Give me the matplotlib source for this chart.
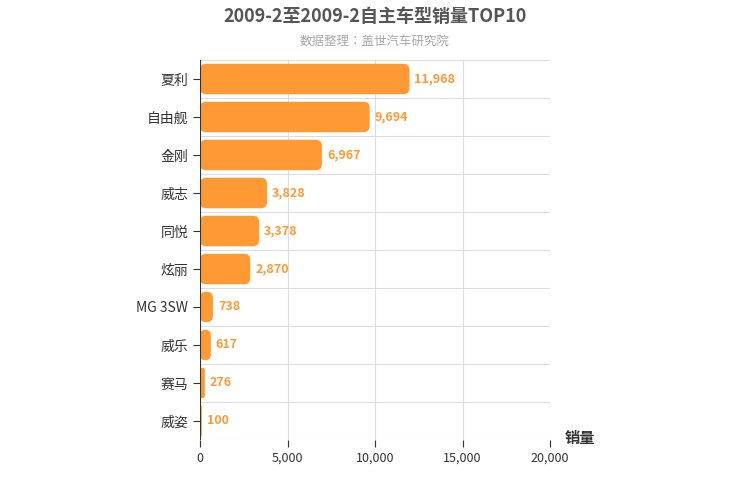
import matplotlib
matplotlib.use("Agg")
import matplotlib.pyplot as plt
from matplotlib.patches import FancyBboxPatch
from matplotlib import font_manager as fm

cjk = [f for f in fm.fontManager.ttflist if 'CJK' in f.name]
names = sorted(set(f.name for f in cjk), key=lambda s: (0 if 'SC' in s else 1, s))
fam = names[0] if names else 'DejaVu Sans'
plt.rcParams['font.family'] = 'sans-serif'
plt.rcParams['font.sans-serif'] = [fam, 'DejaVu Sans']

categories = ["夏利", "自由舰", "金刚", "威志", "同悦", "炫丽", "MG 3SW", "威乐", "赛马", "威姿"]
values = [11968, 9694, 6967, 3828, 3378, 2870, 738, 617, 276, 100]
xticks = [0, 5000, 10000, 15000, 20000]

fig = plt.figure(figsize=(7.5, 5), dpi=100)
ax = fig.add_axes([200/750, 60/500, 350/750, 380/500])
n = len(categories)
ax.set_xlim(0, 20000)
ax.set_ylim(n, 0)
color = '#FF9933'
h = 0.8
xpp = 20000/350
ypp = n/380
for i, v in enumerate(values):
    r = min(6*xpp, v/2)
    p = FancyBboxPatch((0, i+0.5-h/2), v, h,
                       boxstyle=f"round,pad=0,rounding_size={r}",
                       mutation_aspect=ypp/xpp, fc=color, ec='none', zorder=3)
    ax.add_patch(p)
    ax.text(v + 5*xpp, i+0.5, f"{v:,}", va='center', ha='left',
            color=color, fontsize=9, fontweight='bold', zorder=4)
ax.set_yticks([i+0.5 for i in range(n)])
ax.set_yticklabels(categories, fontsize=10, color='#333333')
ax.set_xticks(xticks)
ax.set_xticklabels([f"{t:,}" for t in xticks], fontsize=9, color='#333333')
for x in xticks:
    ax.axvline(x, color='#dddddd', lw=0.8, zorder=0)
for y in range(n+1):
    ax.axhline(y, color='#dddddd', lw=0.8, zorder=0)
for s in ax.spines.values():
    s.set_visible(False)
ax.axvline(0, color='#333333', lw=0.8, zorder=5)
ax.tick_params(axis='y', length=5, color='#333333')
ax.tick_params(axis='x', length=5, color='#333333')
fig.text(375/750, 1-16/500, "2009-2至2009-2自主车型销量TOP10", ha='center', va='center',
         fontsize=13, fontweight='bold', color='#555555')
fig.text(375/750, 1-41/500, "数据整理：盖世汽车研究院", ha='center', va='center',
         fontsize=9, color='#aaaaaa')
fig.text(565/750, 1-438/500, "销量", ha='left', va='center', fontsize=11,
         fontweight='bold', color='#333333')
fig.savefig("out.png", dpi=100)
